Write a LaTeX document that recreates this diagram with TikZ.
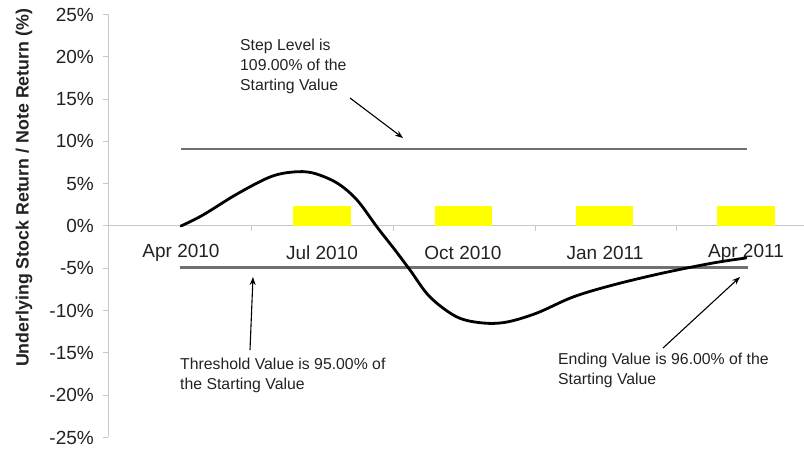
\documentclass[tikz,border=0pt]{standalone}
\usepackage{fontspec}
\setmainfont{Liberation Sans}
\usetikzlibrary{arrows.meta}
\definecolor{axisgrey}{HTML}{C8C8C8}
\definecolor{levelgrey}{HTML}{707070}
\definecolor{txt}{HTML}{222222}
\definecolor{baryellow}{HTML}{FFFF00}
\tikzset{
  ticklbl/.style={font=\fontsize{19}{21}\selectfont, text=txt, inner sep=0pt},
  catlbl/.style={font=\fontsize{19}{21}\selectfont, text=txt, inner sep=0pt},
  annot/.style={font=\fontsize{15.8}{20}\selectfont, text=txt, inner sep=0pt, align=left, anchor=north west},
  axisline/.style={draw=axisgrey, line width=1pt},
  levelline/.style={draw=levelgrey, line width=2.4pt},
  curveline/.style={draw=black, line width=2.8pt, line cap=round},
  pointer/.style={draw=black, line width=1.1pt, -{Stealth[length=8pt,width=6pt]}},
  bar/.style={fill=baryellow}
}
\begin{document}
\begin{tikzpicture}[x=1pt,y=-1pt]
\useasboundingbox (0,0) rectangle (804,449);
% axes
\draw[axisline] (108,14) -- (108,437);
\draw[axisline] (108,226) -- (804,226);
\foreach \p in {25,20,...,-25} {
  \draw[axisline] (103,{226-8.46*\p}) -- (108,{226-8.46*\p});
  \node[ticklbl, anchor=east] (yl\p) at (94,{226-8.46*\p}) {\p\%};
}
\foreach \xx in {251,393,535,676} {
  \draw[axisline] (\xx,226) -- (\xx,231);
}
% category labels
\node[catlbl] (c1) at (181,253) {Apr 2010};
\node[catlbl] (c2) at (322,253) {Jul 2010};
\node[catlbl] (c3) at (463,253) {Oct 2010};
\node[catlbl] (c4) at (605,253) {Jan 2011};
\node[catlbl] (c5) at (746,253) {Apr 2011};
% axis title
\node[rotate=90, font=\bfseries\fontsize{17.8}{20}\selectfont, text=txt, inner sep=0pt] (ytitle) at (24,188) {Underlying Stock Return / Note Return (\%)};
% bars
\fill[bar] (293,206) rectangle (351,226);
\fill[bar] (435,206) rectangle (492,226);
\fill[bar] (576,206) rectangle (633,226);
\fill[bar] (717,206) rectangle (775,226);
% level lines
\draw[levelline] (181,149) -- (747,149);
\draw[levelline] (180,267.5) -- (748,267.5);
% curve
\draw[curveline] plot[smooth, tension=0.55] coordinates {
  (181,226) (203,215) (237,194) (270,177) (293,172) (313,173) (337,183)
  (357,200) (377,227) (395,250) (410,270) (430,297) (457,317) (483,323)
  (507,322) (537,313) (573,297) (613,285) (663,273) (713,263) (746,258)};
% annotations
\node[annot] (stepnote) at (240,39) {Step Level is\\109.00\% of the\\Starting Value};
\node[annot] (thrnote) at (180,358) {Threshold Value is 95.00\% of\\the Starting Value};
\node[annot] (endnote) at (558,353) {Ending Value is 96.00\% of the\\Starting Value};
\coordinate (stepfrom) at (350,98);
\coordinate (stepto) at (403,138);
\coordinate (thrfrom) at (250,350);
\coordinate (thrto) at (253,277);
\coordinate (endfrom) at (663,348);
\coordinate (endto) at (740,277);
\draw[pointer] (stepfrom) -- (stepto);
\draw[pointer] (thrfrom) -- (thrto);
\draw[pointer] (endfrom) -- (endto);
\end{tikzpicture}
\end{document}
